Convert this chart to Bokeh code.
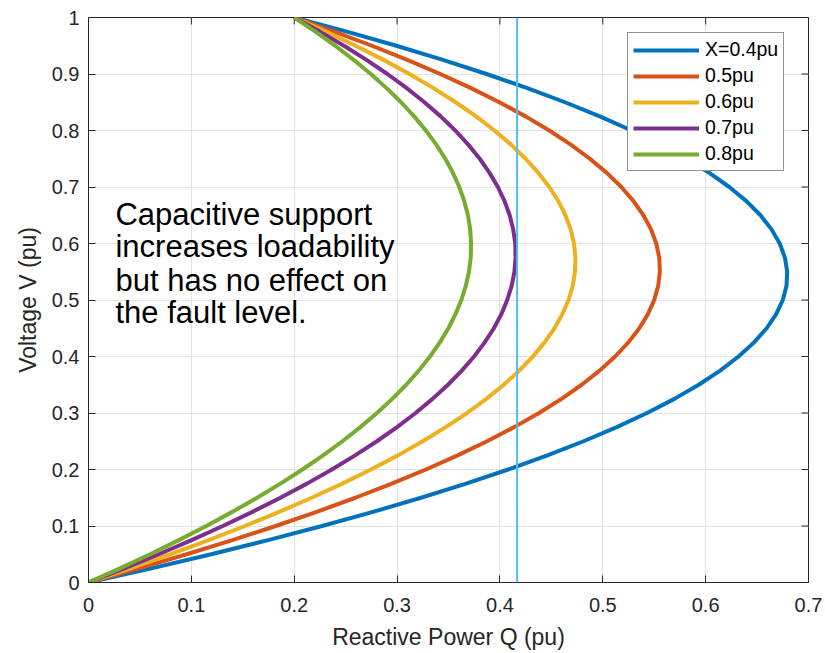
from bokeh.plotting import figure
from bokeh.models import Range1d, FixedTicker, Span, Label, Legend, LegendItem
from bokeh.embed import file_html
from bokeh.resources import INLINE

# ---- data ----
V = [0, .025, .05, .075, .1, .125, .15, .175, .2, .225, .25, .275, .3, .325, .35, .375,
     .4, .425, .45, .475, .5, .525, .55, .575, .6, .625, .65, .675, .7, .725, .75, .775,
     .8, .825, .85, .875, .9, .925, .95, .975, 1.0]

Q_04 = [0, .0611, .1193, .1746, .227, .2766, .3233, .3671, .408, .4461, .4813, .5136, .543,
        .5696, .5933, .6141, .632, .6471, .6593, .6686, .675, .6786, .6793, .6771, .672,
        .6641, .6533, .6396, .623, .6036, .5813, .5561, .528, .4971, .4633, .4266, .387,
        .3446, .2993, .2511, .2]
Q_05 = [0, .0489, .0955, .1399, .182, .2219, .2595, .2949, .328, .3589, .3875, .4139, .438,
        .4599, .4795, .4969, .512, .5249, .5355, .5439, .55, .5539, .5555, .5549, .552,
        .5469, .5395, .5299, .518, .5039, .4875, .4689, .448, .4249, .3995, .3719, .342,
        .3099, .2755, .2389, .2]
Q_06 = [0, .0407, .0797, .1168, .152, .1854, .217, .2468, .2747, .3008, .325, .3474, .368,
        .3868, .4037, .4188, .432, .4434, .453, .4607, .4667, .4708, .473, .4734, .472,
        .4688, .4637, .4568, .448, .4374, .425, .4108, .3947, .3768, .357, .3354, .312,
        .2868, .2597, .2308, .2]
Q_07 = [0, .0349, .0684, .1002, .1306, .1594, .1866, .2124, .2366, .2592, .2804, .3, .318,
        .3345, .3495, .3629, .3749, .3852, .3941, .4014, .4071, .4114, .4141, .4152, .4149,
        .4129, .4095, .4045, .398, .3899, .3804, .3692, .3566, .3424, .3266, .3094, .2906,
        .2702, .2484, .2249, .2]
Q_08 = [0, .0306, .0599, .0878, .1145, .1398, .1639, .1866, .208, .2281, .2469, .2643, .2805,
        .2953, .3089, .3211, .332, .3416, .3499, .3568, .3625, .3668, .3699, .3716, .372,
        .3711, .3689, .3653, .3605, .3543, .3469, .3381, .328, .3166, .3039, .2898, .2745,
        .2578, .2399, .2206, .2]

series_labels = ["X=0.4pu", "0.5pu", "0.6pu", "0.7pu", "0.8pu"]
series_colors = ["#0072BD", "#D95319", "#EDB120", "#7E2F8E", "#77AC30"]
series_Q = [Q_04, Q_05, Q_06, Q_07, Q_08]

Q_limit = 0.4167

x_ticks = [0, 0.1, 0.2, 0.3, 0.4, 0.5, 0.6, 0.7]
x_tick_labels = ["0", "0.1", "0.2", "0.3", "0.4", "0.5", "0.6", "0.7"]
y_ticks = [0, 0.1, 0.2, 0.3, 0.4, 0.5, 0.6, 0.7, 0.8, 0.9, 1.0]
y_tick_labels = ["0", "0.1", "0.2", "0.3", "0.4", "0.5", "0.6", "0.7", "0.8", "0.9", "1"]

note_lines = ["Capacitive support", "increases loadability", "but has no effect on",
              "the fault level."]

FONT = "Liberation Sans"
AX = "#262626"
X0, X1, Y0, Y1 = 0, 0.7, 0, 1

p = figure(width=825, height=653, output_backend="svg", toolbar_location=None,
           x_range=Range1d(X0, X1), y_range=Range1d(Y0, Y1),
           min_border_left=88, min_border_right=17, min_border_top=17, min_border_bottom=71,
           background_fill_color="white", border_fill_color="white")
p.outline_line_color = AX
p.outline_line_width = 1

for ax, ticks, labels in ((p.xaxis[0], x_ticks, x_tick_labels), (p.yaxis[0], y_ticks, y_tick_labels)):
    ax.ticker = FixedTicker(ticks=ticks)
    ax.major_label_overrides = {t: l for t, l in zip(ticks, labels)}
    ax.major_tick_in = 7
    ax.major_tick_out = 0
    ax.minor_tick_in = 0
    ax.minor_tick_out = 0
    ax.axis_line_color = AX
    ax.major_tick_line_color = AX
    ax.major_label_text_font = FONT
    ax.major_label_text_font_size = "20px"
    ax.major_label_text_color = AX
    ax.axis_label_text_font = FONT
    ax.axis_label_text_font_size = "23px"
    ax.axis_label_text_font_style = "normal"
    ax.axis_label_text_color = AX

p.xaxis[0].axis_label = "Reactive Power Q (pu)"
p.yaxis[0].axis_label = "Voltage V (pu)"
p.xaxis[0].major_label_standoff = 15
p.yaxis[0].major_label_standoff = 9
p.xaxis[0].axis_label_standoff = 9
p.yaxis[0].axis_label_standoff = 8

p.xgrid.ticker = FixedTicker(ticks=x_ticks)
p.ygrid.ticker = FixedTicker(ticks=y_ticks)
p.grid.grid_line_color = "#e3e3e3"
p.grid.grid_line_width = 1

# tick marks on the top and right edges of the box (MATLAB style)
tick_dy = 7 / 565 * (Y1 - Y0)
tick_dx = 7 / 720 * (X1 - X0)
p.segment(x0=x_ticks, y0=[Y1] * len(x_ticks), x1=x_ticks, y1=[Y1 - tick_dy] * len(x_ticks),
          line_color=AX, line_width=1)
p.segment(x0=[X1] * len(y_ticks), y0=y_ticks, x1=[X1 - tick_dx] * len(y_ticks), y1=y_ticks,
          line_color=AX, line_width=1)

items = []
for lab, col, q in zip(series_labels, series_colors, series_Q):
    r = p.line(q, V, line_color=col, line_width=4)
    items.append(LegendItem(label=lab, renderers=[r]))

p.add_layout(Span(location=Q_limit, dimension="height", line_color="#4DBEEE", line_width=2))

legend = Legend(items=items, location=(539, 411), label_text_font=FONT,
                label_text_font_size="19.5px", label_text_color="#000000",
                glyph_width=66, glyph_height=20, spacing=3, padding=5, margin=0,
                label_standoff=6, border_line_color=AX, border_line_width=1,
                background_fill_color="white", background_fill_alpha=1)
p.add_layout(legend, "center")

line_y = [0.651, 0.594, 0.535, 0.478]
for txt, yy in zip(note_lines, line_y):
    p.add_layout(Label(x=0.0262, y=yy, text=txt, text_font=FONT, text_font_size="31px",
                       text_color="#000000", text_baseline="alphabetic", text_align="left"))

open("out.html", "w").write(file_html(p, INLINE))
